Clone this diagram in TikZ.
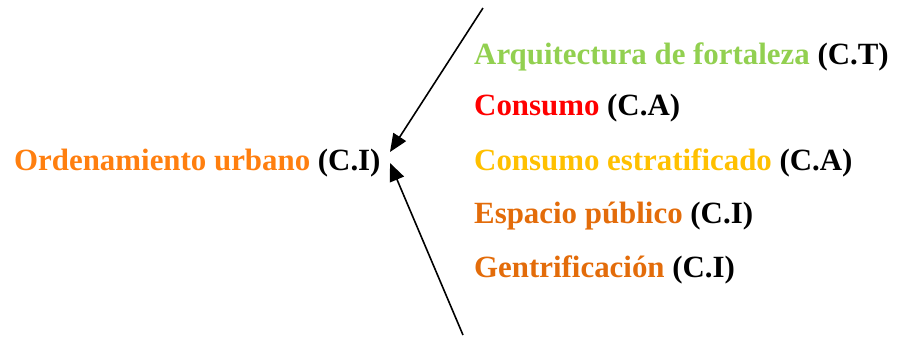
\documentclass[tikz,border=0pt]{standalone}
\usepackage{fontspec}
\setmainfont{Liberation Serif}
\usetikzlibrary{arrows.meta}
\definecolor{cgreen}{HTML}{92D050}
\definecolor{cred}{HTML}{FF0000}
\definecolor{cyellow}{HTML}{FFC000}
\definecolor{corange}{HTML}{E36C0A}
\definecolor{corange2}{HTML}{FF7F0F}
\tikzset{
  lbl/.style={anchor=west, inner sep=0pt, font=\fontsize{31}{36}\selectfont\bfseries},
  arr/.style={line width=1.6pt, -{Triangle[length=18pt,width=15pt]}}
}
\begin{document}
\begin{tikzpicture}[x=1bp,y=-1bp]
\useasboundingbox (0,0) rectangle (898,337);
\node[lbl] (main) at (14,163) {\textcolor{corange2}{Ordenamiento urbano} (C.I)};
\node[lbl] (t1) at (474,57) {\textcolor{cgreen}{Arquitectura de fortaleza} (C.T)};
\node[lbl] (t2) at (474,108) {\textcolor{cred}{Consumo} (C.A)};
\node[lbl] (t3) at (474,163) {\textcolor{cyellow}{Consumo estratificado} (C.A)};
\node[lbl] (t4) at (474,216) {\textcolor{corange}{Espacio público} (C.I)};
\node[lbl] (t5) at (474,270) {\textcolor{corange}{Gentrificación} (C.I)};
\coordinate (s1) at (483,8);
\coordinate (s2) at (463,335);
\coordinate (e1) at (390,152);
\coordinate (e2) at (390,163);
\draw[arr] (s1) -- (e1);
\draw[arr] (s2) -- (e2);
\end{tikzpicture}
\end{document}
